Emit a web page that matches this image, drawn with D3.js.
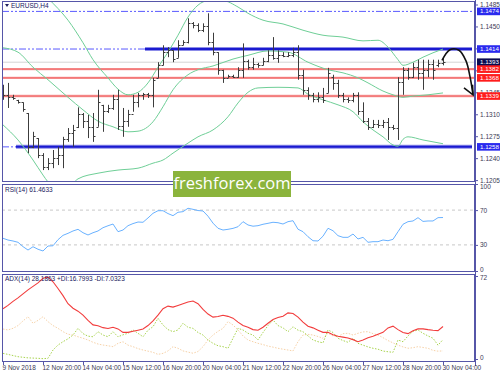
<!DOCTYPE html>
<html><head><meta charset="utf-8">
<script src="https://cdn.jsdelivr.net/npm/d3@7"></script>
<style>body{margin:0;background:#fff;} svg{display:block;font-family:"Liberation Sans",Arial,sans-serif;}</style>
</head><body><svg id="c" width="500" height="375"></svg>
<script>
// ---------- DATA ----------
const symbolTitle = "EURUSD,H4";
const opens = [1.1350,1.1340,1.1338,1.1333,1.1330,1.1312,1.1258,1.1272,1.1245,1.1226,
1.1233,1.1240,1.1245,1.1270,1.1280,1.1290,1.1310,1.1300,1.1290,1.1290,
1.1325,1.1315,1.1320,1.1335,1.1292,1.1300,1.1310,1.1330,1.1340,1.1342,
1.1340,1.1368,1.1388,1.1410,1.1412,1.1400,1.1420,1.1425,1.1455,1.1452,
1.1445,1.1450,1.1425,1.1409,1.1380,1.1368,1.1371,1.1370,1.1380,1.1395,
1.1385,1.1390,1.1388,1.1395,1.1405,1.1400,1.1405,1.1403,1.1405,1.1410,
1.1372,1.1348,1.1340,1.1335,1.1338,1.1344,1.1370,1.1360,1.1340,1.1335,
1.1332,1.1340,1.1315,1.1300,1.1290,1.1295,1.1293,1.1298,1.1290,1.1288,
1.1362,1.1380,1.1370,1.1385,1.1375,1.1380,1.1390,1.1388,1.1392];
const highs = [1.1357,1.1360,1.1341,1.1333,1.1329,1.1312,1.1282,1.1272,1.1248,1.1240,
1.1253,1.1258,1.1274,1.1288,1.1293,1.1321,1.1312,1.1309,1.1312,1.1349,
1.1325,1.1325,1.1341,1.1349,1.1320,1.1317,1.1341,1.1344,1.1344,1.1344,
1.1368,1.1393,1.1420,1.1417,1.1412,1.1428,1.1428,1.1463,1.1457,1.1455,
1.1455,1.1471,1.1440,1.1409,1.1381,1.1373,1.1373,1.1385,1.1423,1.1397,
1.1400,1.1392,1.1400,1.1412,1.1433,1.1412,1.1409,1.1409,1.1416,1.1420,
1.1381,1.1353,1.1344,1.1345,1.1352,1.1384,1.1373,1.1365,1.1344,1.1337,
1.1344,1.1345,1.1329,1.1304,1.1301,1.1301,1.1301,1.1304,1.1293,1.1369,
1.1385,1.1384,1.1392,1.1397,1.1397,1.1397,1.1397,1.1397,1.1400];
const lows = [1.1333,1.1320,1.1333,1.1327,1.1314,1.1248,1.1256,1.1240,1.1221,1.1221,
1.1224,1.1229,1.1224,1.1266,1.1258,1.1288,1.1288,1.1272,1.1266,1.1290,
1.1282,1.1312,1.1317,1.1285,1.1274,1.1290,1.1314,1.1321,1.1333,1.1336,
1.1321,1.1368,1.1388,1.1401,1.1393,1.1400,1.1420,1.1423,1.1447,1.1441,
1.1441,1.1420,1.1404,1.1373,1.1360,1.1368,1.1368,1.1368,1.1368,1.1381,
1.1381,1.1384,1.1388,1.1393,1.1397,1.1392,1.1401,1.1401,1.1401,1.1365,
1.1341,1.1333,1.1329,1.1329,1.1328,1.1344,1.1349,1.1336,1.1329,1.1328,
1.1329,1.1309,1.1296,1.1285,1.1288,1.1288,1.1288,1.1269,1.1285,1.1269,
1.1341,1.1365,1.1368,1.1365,1.1349,1.1369,1.1365,1.1385,1.1388];
const closes = [1.1340,1.1338,1.1336,1.1330,1.1318,1.1258,1.1275,1.1245,1.1226,1.1233,
1.1240,1.1245,1.1270,1.1280,1.1285,1.1310,1.1300,1.1290,1.1275,1.1330,
1.1315,1.1320,1.1335,1.1292,1.1300,1.1310,1.1330,1.1340,1.1342,1.1340,
1.1365,1.1388,1.1410,1.1412,1.1398,1.1420,1.1425,1.1455,1.1452,1.1445,
1.1450,1.1425,1.1410,1.1380,1.1368,1.1371,1.1370,1.1380,1.1395,1.1385,
1.1390,1.1388,1.1395,1.1405,1.1400,1.1405,1.1403,1.1405,1.1410,1.1372,
1.1348,1.1340,1.1335,1.1338,1.1333,1.1375,1.1360,1.1340,1.1335,1.1332,
1.1340,1.1315,1.1300,1.1290,1.1295,1.1293,1.1298,1.1290,1.1288,1.1362,
1.1380,1.1370,1.1385,1.1375,1.1380,1.1390,1.1380,1.1392,1.1393];

// Bollinger bands, read at selected bar indices
const bbUpperIdx = [0,5,9,13,16,18,21,23,25,27,29,31,33,35,37,39,41,44,47,49,52,56,60,64,68,72,75,77,79,80,82,84,86,88];
const bbUpper    = [1.1556,1.1527,1.1495,1.1460,1.1424,1.1397,1.1368,1.1350,1.1341,1.1345,1.1360,1.1385,1.1409,1.1436,1.1465,1.1484,1.1491,1.1491,1.1481,1.1471,1.1460,1.1454,1.1444,1.1436,1.1433,1.1427,1.1428,1.1417,1.1397,1.1388,1.1393,1.1401,1.1408,1.1414];
const bbMidIdx = [0,3,6,9,13,16,19,22,25,27,30,32,34,37,39,42,46,49,53,57,61,65,68,71,73,76,78,80,82,85,88];
const bbMid    = [1.1416,1.1409,1.1385,1.1365,1.1337,1.1317,1.1299,1.1290,1.1282,1.1283,1.1298,1.1322,1.1349,1.1373,1.1381,1.1387,1.1398,1.1404,1.1411,1.1409,1.1393,1.1381,1.1376,1.1368,1.1360,1.1347,1.1341,1.1337,1.1339,1.1341,1.1344];
const bbLowerIdx = [0,3,6,8,9,11,14,15,19,23,27,30,32,34,37,39,42,45,47,49,51,55,59,61,64,67,70,72,74,76,78,79,80,81,84,88];
const bbLower    = [1.1293,1.1269,1.1237,1.1213,1.1202,1.1189,1.1200,1.1207,1.1216,1.1221,1.1224,1.1232,1.1237,1.1248,1.1264,1.1274,1.1285,1.1306,1.1328,1.1345,1.1352,1.1353,1.1352,1.1342,1.1333,1.1325,1.1314,1.1298,1.1285,1.1274,1.1261,1.1259,1.1270,1.1274,1.1269,1.1263];

// Horizontal levels
const blueLevels = [1.1474, 1.1414, 1.1258];
const redLevels = [1.1382, 1.1368, 1.1339];
const lastPrice = 1.1393;
const priceTicks = [1.1485,1.1450,1.1415,1.1380,1.1345,1.1310,1.1275,1.1240,1.1205];

// RSI(14)
const rsiLabel = "RSI(14) 61.4633";
const rsi = [37.6,35.6,34.5,33,28,24.1,27.9,25,23,28.7,29,36,41,43.3,46,47.9,44,41.4,44,46,
49.8,52,54,45.2,47.1,52.1,54.5,56.3,56,61,66.3,69.3,69.3,66,63.6,67.5,68.2,72.1,70.9,69.5,
69,63,55,49.1,47.1,47.9,49,50.9,56.7,52.9,51.5,52.1,53.7,54.8,56,55.5,54,56.7,57.8,48,
45.2,39.4,34.8,34.5,40,49.1,46.3,40.6,38.7,38.7,42.5,36.8,38.7,33,33.7,33.7,35.6,34.8,36.4,45.2,
53.7,56.7,57.5,61.3,57,57.5,57.5,61.3,61.46];
const rsiTicks = [100,70,30,0];

// ADX(14)
const adxLabel = "ADX(14) 28.1863 +DI:16.7993 -DI:7.0323";
const adx = [43.6,46.5,50,53,56.5,60,63,66,70,71,67,61.2,55,48,44,41.5,38,33.5,29.6,28.8,
27.2,26.5,27.5,26.1,23.1,23.1,24,25,26.1,29,33,38,43.6,45.9,45,46.5,48,49.5,50.3,48,
43,39,36.3,36.8,38,37,35.4,32,29,27.5,25.5,25,27.5,31,34.2,36,37.1,40,39.5,36.3,
32,28.5,27,25,23.1,23.1,21,19.8,19,18.2,16.8,15,16.5,18.5,19.8,21.5,23.1,27,28.5,25.5,
23,22,24.5,26.1,26.1,25.5,25,24.6,28.19];
const plusDI = [4.9,4,3,2,1.5,1,0.8,0.6,0.3,0.6,7.8,12.1,15,17.5,20.8,26.6,22,19.8,19.3,23.7,
20.8,19.3,23.7,19.3,21,22.3,25.2,22.3,19.3,25,28,35.3,29.5,25.5,23.7,25.2,31,27.5,26.6,23,
20.8,16.5,13.6,11.5,10.7,9.3,18,26.6,25.2,22.3,20.8,16.5,23,29,33.8,29,27,23.7,28,25,
23.7,20,16.5,15,14,25.2,23,18,16,14.5,18,13.6,12,10.5,9.3,8.5,6.9,6.3,5.8,16.5,
15,20,24,25.2,22.3,20,18,12,16.8];
const minusDI = [26,25.2,26.6,29,33,36.7,31,33.5,36.7,32.4,29,26.6,23.7,21.5,20.8,19.3,18,16.5,14.5,13,
12.1,11.5,10.7,13.6,15,12,10.7,9,7.8,6.8,5.8,4,4.9,7,10.7,9.3,7,6,5,6.5,
10.7,16.5,20.8,24,26.6,32.4,29.5,25.2,20,16.5,15,13.6,12.5,11.2,10.3,9.3,8.5,7.8,7,15,
20.8,21.4,20.8,19.5,18,22.3,20,19.5,22,22.3,20.8,22.3,23.5,23.7,22,20.8,18.5,16,14,12,
10.5,9.3,9.8,10.7,10,9.3,7.5,6.8,7.03];
const adxTicks = [72,0];

const timeLabelIdx = [0,8,16,24,32,40,48,56,64,72,80,88];
const timeLabels = ["9 Nov 2018","12 Nov 20:00","14 Nov 04:00","15 Nov 12:00","16 Nov 20:00","20 Nov 04:00",
"21 Nov 12:00","22 Nov 20:00","26 Nov 04:00","27 Nov 12:00","28 Nov 20:00","30 Nov 04:00"];
const watermark = "freshforex.com";

// ---------- LAYOUT ----------
const svg = d3.select("#c");
const L = 2, R = 475;
const main = {t:1, b:182}, rsiP = {t:184, b:272}, adxP = {t:274, b:362};
const frameCol = "#5656a8", txtCol = "#3a3a55";
const FS = 6.5;

const x = d3.scaleLinear().domain([0, 88]).range([3, 443]);
const y = d3.scaleLinear().domain([1.1205, 1.1485]).range([180.1, 4.5]);
const yR = d3.scaleLinear().domain([0, 100]).range([271, 184]);
const yA = d3.scaleLinear().domain([0, 72]).range([359, 276]);

const defs = svg.append("defs");
[["cm",main],["cr",rsiP],["ca",adxP]].forEach(([id,p])=>{
  defs.append("clipPath").attr("id",id).append("rect").attr("x",L).attr("y",p.t).attr("width",R-L).attr("height",p.b-p.t);
});

// ---------- MAIN PANEL ----------
const gm = svg.append("g").attr("clip-path","url(#cm)");
gm.append("line").attr("x1",L).attr("x2",R).attr("y1",y(lastPrice)).attr("y2",y(lastPrice)).attr("stroke","#d4d4d4").attr("stroke-width",1);
redLevels.forEach(v=>{
  gm.append("line").attr("x1",L).attr("x2",R).attr("y1",y(v)).attr("y2",y(v)).attr("stroke","#f7a0a0").attr("stroke-width",2.4);
  gm.append("line").attr("x1",L).attr("x2",R).attr("y1",y(v)).attr("y2",y(v)).attr("stroke","#ef5a5a").attr("stroke-width",0.9);
});
const thickFrom = {1.1474:null, 1.1414:145, 1.1258:16};
blueLevels.forEach(v=>{
  const tf = thickFrom[v];
  const dashEnd = tf===null ? R : tf;
  gm.append("line").attr("x1",L).attr("x2",dashEnd).attr("y1",y(v)).attr("y2",y(v))
    .attr("stroke","#5a5aff").attr("stroke-width",1).attr("stroke-dasharray","7,2,2,2,2,2");
  if(tf!==null){
    gm.append("line").attr("x1",tf).attr("x2",472).attr("y1",y(v)).attr("y2",y(v)).attr("stroke","#8c8ce8").attr("stroke-width",4);
    gm.append("line").attr("x1",tf).attr("x2",472).attr("y1",y(v)).attr("y2",y(v)).attr("stroke","#1a1ad0").attr("stroke-width",2);
  }
});
const bbLine = d3.line().x(d=>x(d[0])).y(d=>y(d[1])).curve(d3.curveMonotoneX);
[[bbUpperIdx,bbUpper],[bbMidIdx,bbMid],[bbLowerIdx,bbLower]].forEach(([ix,vs])=>{
  gm.append("path").attr("d",bbLine(ix.map((k,j)=>[k,vs[j]]))).attr("fill","none").attr("stroke","#6fcf97").attr("stroke-width",1);
});
const bars = gm.append("g").attr("stroke","#3c3c3c").attr("stroke-width",1);
d3.range(opens.length).forEach(i=>{
  const cx = Math.round(x(i))+0.5;
  bars.append("line").attr("x1",cx).attr("x2",cx).attr("y1",y(highs[i])).attr("y2",y(lows[i]));
  bars.append("line").attr("x1",cx-2).attr("x2",cx).attr("y1",Math.round(y(opens[i]))+0.5).attr("y2",Math.round(y(opens[i]))+0.5);
  bars.append("line").attr("x1",cx).attr("x2",cx+2).attr("y1",Math.round(y(closes[i]))+0.5).attr("y2",Math.round(y(closes[i]))+0.5);
});
// forecast arrow
const arrowPts = [[1.1396,442],[1.1413,450],[1.1412,459],[1.1395,466],[1.1370,470],[1.1341,473]];
svg.append("path").attr("d",d3.line().x(d=>d[1]).y(d=>y(d[0])).curve(d3.curveCatmullRom)(arrowPts))
  .attr("fill","none").attr("stroke","#111").attr("stroke-width",1.6);
const tip = [473, y(1.1341)];
svg.append("path").attr("d",`M${tip[0]-9},${tip[1]-7} L${tip[0]},${tip[1]} L${tip[0]-0.5},${tip[1]-10}`)
  .attr("fill","none").attr("stroke","#111").attr("stroke-width",1.6);

// title
svg.append("path").attr("d","M5,4 L9,4 L7,7 Z").attr("fill","#202060");
svg.append("text").attr("x",11).attr("y",6.5).attr("font-size",FS).attr("fill","#202060").attr("dominant-baseline","middle").text(symbolTitle);

// price axis
const pa = svg.append("g").attr("transform",`translate(${R},0)`)
  .call(d3.axisRight(y).tickValues(priceTicks).tickSize(3).tickFormat(d3.format(".4f")));
pa.select(".domain").remove();
pa.selectAll("line").attr("stroke",frameCol);
pa.selectAll("text").attr("font-size",FS).attr("fill",txtCol).attr("x",5).attr("font-family","Liberation Sans");

function tag(v,col){
  const g = svg.append("g");
  g.append("rect").attr("x",477).attr("y",y(v)-3.8).attr("width",23).attr("height",7.6).attr("fill",col);
  g.append("text").attr("x",480).attr("y",y(v)+0.4).attr("font-size",6.2).attr("fill","#fff").attr("dominant-baseline","middle").text(v.toFixed(4));
}
blueLevels.forEach(v=>tag(v,"#2a2aee"));
tag(lastPrice,"#0c0c50");
redLevels.forEach(v=>tag(v,"#ff1c1c"));

// ---------- RSI PANEL ----------
const gr = svg.append("g").attr("clip-path","url(#cr)");
[70,30].forEach(v=>gr.append("line").attr("x1",L).attr("x2",R).attr("y1",yR(v)).attr("y2",yR(v)).attr("stroke","#c8c8c8").attr("stroke-dasharray","3,3"));
gr.append("path").attr("d",d3.line().x((d,i)=>x(i)).y(d=>yR(d))(rsi)).attr("fill","none").attr("stroke","#6ab2ff").attr("stroke-width",1);
svg.append("text").attr("x",5).attr("y",190).attr("font-size",FS).attr("fill","#202060").attr("dominant-baseline","middle").text(rsiLabel);
const ra = svg.append("g").attr("transform",`translate(${R},0)`).call(d3.axisRight(yR).tickValues(rsiTicks).tickSize(3));
ra.select(".domain").remove(); ra.selectAll("line").attr("stroke",frameCol);
ra.selectAll("text").attr("font-size",FS).attr("fill",txtCol).attr("x",5).attr("font-family","Liberation Sans")
  .attr("dy",d=>d===100?"0.7em":d===0?"0em":"0.32em");

// ---------- ADX PANEL ----------
const ga = svg.append("g").attr("clip-path","url(#ca)");
const lA = d3.line().x((d,i)=>x(i)).y(d=>yA(d));
ga.append("path").attr("d",lA(minusDI)).attr("fill","none").attr("stroke","#f7d2a8").attr("stroke-width",1).attr("stroke-dasharray","1.5,1.5");
ga.append("path").attr("d",lA(plusDI)).attr("fill","none").attr("stroke","#a8d44e").attr("stroke-width",1).attr("stroke-dasharray","1.5,1.5");
ga.append("path").attr("d",lA(adx)).attr("fill","none").attr("stroke","#f23c3c").attr("stroke-width",1.1);
svg.append("text").attr("x",5).attr("y",279.5).attr("font-size",FS).attr("fill","#202060").attr("dominant-baseline","middle").text(adxLabel);
const aa = svg.append("g").attr("transform",`translate(${R},0)`).call(d3.axisRight(yA).tickValues(adxTicks).tickSize(3));
aa.select(".domain").remove(); aa.selectAll("line").attr("stroke",frameCol);
aa.selectAll("text").attr("font-size",FS).attr("fill",txtCol).attr("x",5).attr("font-family","Liberation Sans")
  .attr("dy",d=>d===72?"0.55em":"0.1em");

// ---------- FRAMES ----------
[main,rsiP,adxP].forEach(p=>{
  svg.append("rect").attr("x",L+0.5).attr("y",p.t+0.5).attr("width",R-L-1).attr("height",p.b-p.t-1)
    .attr("fill","none").attr("stroke",frameCol).attr("stroke-width",1);
});
svg.append("line").attr("x1",R+0.5).attr("x2",R+0.5).attr("y1",0).attr("y2",366).attr("stroke",frameCol);

// time axis
const ta = svg.append("g");
timeLabelIdx.forEach((k,j)=>{
  const tx = Math.round(x(k))+0.5;
  ta.append("line").attr("x1",tx).attr("x2",tx).attr("y1",adxP.b).attr("y2",adxP.b+3).attr("stroke",frameCol);
  ta.append("text").attr("x",tx-1).attr("y",368).attr("font-size",FS).attr("fill",txtCol).attr("dominant-baseline","middle").text(timeLabels[j]);
});

// watermark
svg.append("rect").attr("x",173).attr("y",171).attr("width",118).attr("height",26).attr("fill","#8bb43c");
svg.append("text").attr("x",232).attr("y",184.5).attr("text-anchor","middle").attr("dominant-baseline","middle")
  .attr("font-family","'Open Sans',sans-serif").attr("font-size",16.5).attr("fill","#fff").text(watermark);
</script></body></html>
